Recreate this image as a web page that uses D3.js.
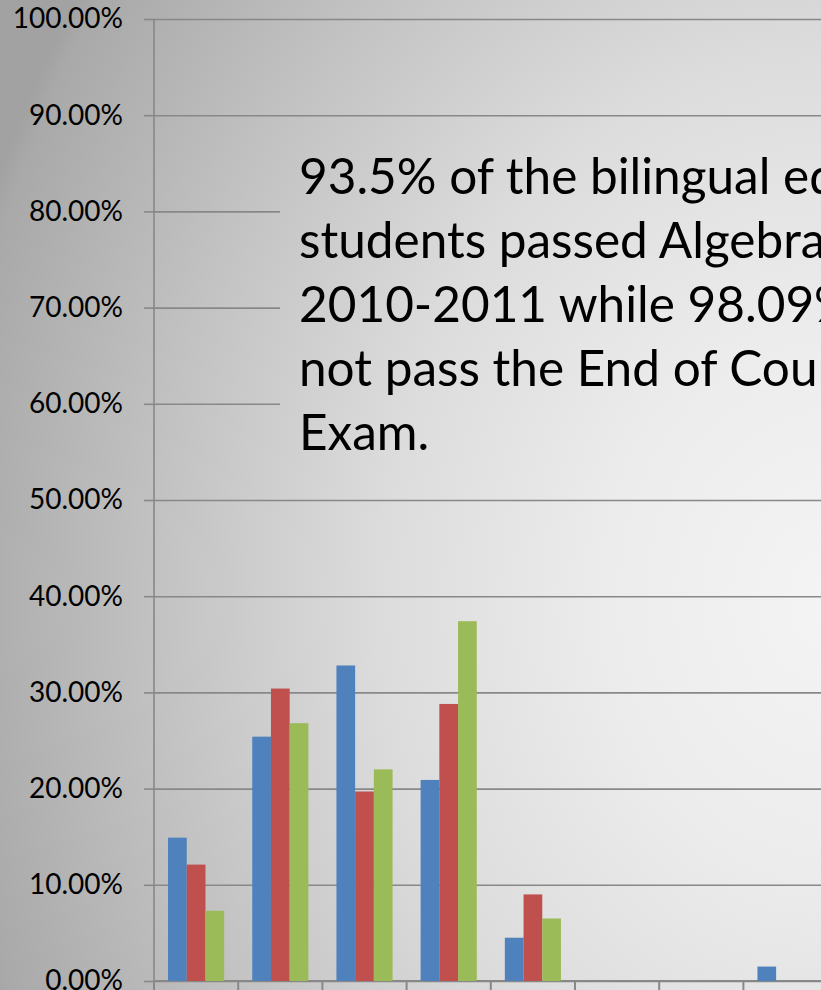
<!DOCTYPE html>
<html>
<head>
<meta charset="utf-8">
<script src="https://cdn.jsdelivr.net/npm/d3@7"></script>
<style>
  html, body { margin: 0; padding: 0; overflow: hidden; }
  svg { display: block; font-family: Lato, "Open Sans", sans-serif; }
</style>
</head>
<body>
<div class="canva"></div>
<script>
// data (category names are cut off in the source)
const categories = ["1", "2", "3", "4", "5", "6", "7", "8"];
const series = ["Series 1", "Series 2", "Series 3"];
const values1 = [0.149, 0.254, 0.328, 0.209, 0.045, 0, 0, 0.015];
const values2 = [0.121, 0.304, 0.197, 0.288, 0.090, 0, 0, 0];
const values3 = [0.073, 0.268, 0.220, 0.374, 0.065, 0, 0, 0];
const yTicks = [0, 0.1, 0.2, 0.3, 0.4, 0.5, 0.6, 0.7, 0.8, 0.9, 1];
const colors = ["#4f81bd", "#c0504d", "#9bbb59"];
const noteLines = [
  "93.5% of the bilingual education",
  "students passed Algebra I in",
  "2010-2011 while 98.09% did",
  "not pass the End of Course",
  "Exam."
];

const W = 821, H = 990;
const plotLeft = 154, plotTop = 19, plotBottom = 981;
const band = 84.2;

const svg = d3.select(".canva").append("svg")
  .attr("width", W)
  .attr("height", H);

const defs = svg.append("defs");

// chart background
const bg = defs.append("radialGradient")
  .attr("id", "bg")
  .attr("gradientUnits", "userSpaceOnUse")
  .attr("cx", 830).attr("cy", 600).attr("r", 900)
  .attr("gradientTransform", "translate(830,600) scale(1,1.22) translate(-830,-600)");
bg.append("stop").attr("offset", "0").attr("stop-color", "#f4f4f4");
bg.append("stop").attr("offset", "0.25").attr("stop-color", "#ececec");
bg.append("stop").attr("offset", "0.5").attr("stop-color", "#dcdcdc");
bg.append("stop").attr("offset", "0.75").attr("stop-color", "#c2c2c2");
bg.append("stop").attr("offset", "0.98").attr("stop-color", "#a9a9a9");
bg.append("stop").attr("offset", "1").attr("stop-color", "#a2a2a2");

svg.append("rect")
  .attr("width", W)
  .attr("height", H)
  .attr("fill", "url(#bg)");

const x = d3.scaleBand()
  .domain(categories)
  .range([plotLeft, plotLeft + band * categories.length]);

const x1 = d3.scaleBand()
  .domain(series)
  .range([0, x.bandwidth()])
  .paddingOuter(0.75);

const y = d3.scaleLinear()
  .domain([0, 1])
  .range([plotBottom, plotTop]);

// gridlines
svg.append("g")
  .attr("transform", `translate(${plotLeft},0)`)
  .call(d3.axisRight(y).tickValues(yTicks).tickSize(W - plotLeft).tickFormat(""))
  .call(g => g.select(".domain").remove())
  .call(g => g.selectAll("line").attr("stroke", "#888").attr("stroke-width", 1.6));

// y axis
svg.append("g")
  .attr("transform", `translate(${plotLeft},0)`)
  .call(d3.axisLeft(y).tickValues(yTicks).tickSize(10).tickPadding(21).tickFormat(d3.format(".2%")))
  .call(g => g.select(".domain").remove())
  .call(g => g.selectAll("line").attr("stroke", "#888").attr("stroke-width", 1.6))
  .call(g => g.selectAll("text").attr("fill", "#000").attr("font-size", 28)
    .attr("font-family", "Lato, 'Open Sans', sans-serif"));

svg.append("line")
  .attr("x1", plotLeft).attr("x2", plotLeft)
  .attr("y1", plotTop).attr("y2", H)
  .attr("stroke", "#888").attr("stroke-width", 1.6);

// x axis line and category boundary ticks
svg.append("line")
  .attr("x1", plotLeft).attr("x2", W)
  .attr("y1", plotBottom).attr("y2", plotBottom)
  .attr("stroke", "#888").attr("stroke-width", 2);

svg.append("g")
  .selectAll("line")
  .data(categories.concat(["end"]))
  .join("line")
  .attr("x1", d => d === "end" ? x.range()[1] : x(d))
  .attr("x2", d => d === "end" ? x.range()[1] : x(d))
  .attr("y1", plotBottom)
  .attr("y2", H)
  .attr("stroke", "#888")
  .attr("stroke-width", 2);

// bars
const allValues = [values1, values2, values3];
const rows = [];
categories.forEach((c, i) => {
  series.forEach((s, j) => {
    rows.push({ cat: c, ser: s, value: allValues[j][i], color: colors[j] });
  });
});

svg.append("g")
  .selectAll("rect")
  .data(rows.filter(d => d.value > 0))
  .join("rect")
  .attr("x", d => x(d.cat) + x1(d.ser))
  .attr("y", d => y(d.value))
  .attr("width", x1.bandwidth())
  .attr("height", d => y(0) - y(d.value))
  .attr("fill", d => d.color);

// note text box (covers the gridlines behind it)
svg.append("rect")
  .attr("x", 280)
  .attr("y", 128)
  .attr("width", 600)
  .attr("height", 360)
  .attr("fill", "url(#bg)");

svg.append("g")
  .selectAll("text")
  .data(noteLines)
  .join("text")
  .text(d => d)
  .attr("x", 299)
  .attr("y", (d, i) => 194 + i * 64)
  .attr("fill", "#000")
  .attr("font-size", 49.5);
</script>
</body>
</html>
